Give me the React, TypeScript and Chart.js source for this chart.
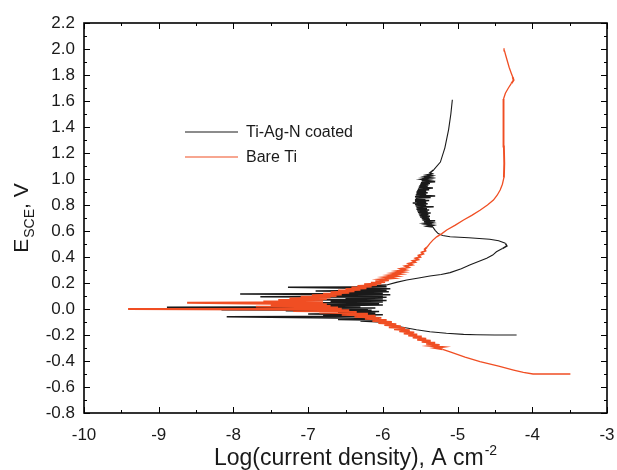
import React, { useEffect, useRef } from "react";
import { Chart, registerables } from "chart.js";

Chart.register(...registerables);

// ---- data: [log(current density), E_SCE] in scan order ----
const coatedTiAgN: [number, number][] = [
  [-4.21, -0.2], [-4.5, -0.2], [-4.75, -0.198], [-4.92, -0.195], [-5.15, -0.187], [-5.37, -0.175],
  [-5.55, -0.16], [-5.77, -0.136], [-5.92, -0.115], [-6.02, -0.1],
  [-6.3, -0.092], [-6.0, -0.086], [-6.6, -0.08], [-6.05, -0.074], [-8.09, -0.06], [-6.1, -0.056],
  [-6.8, -0.05], [-6.0, -0.044], [-7.0, -0.038], [-6.1, -0.032], [-6.6, -0.026], [-6.05, -0.02],
  [-7.3, -0.014], [-6.15, -0.01], [-8.16, -0.006], [-6.2, -0.002], [-6.9, 0.004], [-6.1, 0.008],
  [-8.89, 0.013], [-6.3, 0.018], [-7.1, 0.024], [-6.0, 0.03], [-6.8, 0.036], [-6.05, 0.042],
  [-7.2, 0.048], [-6.0, 0.054], [-6.7, 0.06], [-5.95, 0.066], [-7.0, 0.072], [-6.0, 0.078],
  [-6.5, 0.084], [-5.95, 0.09], [-7.64, 0.095], [-6.0, 0.1], [-6.9, 0.106], [-5.9, 0.11],
  [-7.91, 0.115], [-6.0, 0.12], [-6.6, 0.126], [-5.92, 0.132], [-6.9, 0.138], [-5.95, 0.144],
  [-6.4, 0.15], [-5.9, 0.156], [-7.27, 0.167], [-6.35, 0.17], [-5.95, 0.172], [-6.2, 0.178], [-5.95, 0.185],
  [-5.82, 0.205], [-5.68, 0.223], [-5.52, 0.238], [-5.37, 0.254], [-5.22, 0.266], [-5.1, 0.28],
  [-4.95, 0.31], [-4.83, 0.34], [-4.72, 0.365], [-4.61, 0.39], [-4.53, 0.415], [-4.48, 0.44],
  [-4.4, 0.465], [-4.34, 0.485], [-4.36, 0.505], [-4.45, 0.525], [-4.57, 0.536], [-4.85, 0.548],
  [-5.1, 0.556], [-5.2, 0.566], [-5.26, 0.58], [-5.3, 0.605], [-5.33, 0.63],
  [-5.4, 0.636], [-5.34, 0.642], [-5.42, 0.648], [-5.35, 0.654], [-5.44, 0.66], [-5.36, 0.666],
  [-5.45, 0.672], [-5.3, 0.678], [-5.47, 0.684], [-5.37, 0.69], [-5.48, 0.696], [-5.38, 0.702],
  [-5.5, 0.708], [-5.37, 0.714], [-5.51, 0.72], [-5.39, 0.726], [-5.52, 0.732], [-5.36, 0.738],
  [-5.53, 0.744], [-5.4, 0.75], [-5.54, 0.756], [-5.38, 0.762], [-5.55, 0.768], [-5.41, 0.774],
  [-5.55, 0.78], [-5.32, 0.786], [-5.56, 0.792], [-5.42, 0.798], [-5.57, 0.804], [-5.4, 0.81],
  [-5.6, 0.816], [-5.42, 0.822], [-5.57, 0.828], [-5.38, 0.834], [-5.57, 0.84], [-5.43, 0.846],
  [-5.56, 0.852], [-5.36, 0.858], [-5.57, 0.864], [-5.3, 0.87], [-5.56, 0.876], [-5.42, 0.882],
  [-5.55, 0.888], [-5.4, 0.894], [-5.55, 0.9], [-5.42, 0.906], [-5.54, 0.912], [-5.38, 0.918],
  [-5.53, 0.924], [-5.33, 0.93], [-5.52, 0.936], [-5.4, 0.942], [-5.51, 0.948], [-5.39, 0.954],
  [-5.5, 0.96], [-5.37, 0.966], [-5.49, 0.972], [-5.3, 0.978], [-5.48, 0.984], [-5.38, 0.99],
  [-5.47, 0.996], [-5.37, 1.002], [-5.45, 1.008], [-5.36, 1.014], [-5.43, 1.02], [-5.35, 1.026],
  [-5.41, 1.032], [-5.34, 1.04], [-5.37, 1.048],
  [-5.32, 1.07], [-5.23, 1.13], [-5.17, 1.24], [-5.12, 1.38], [-5.09, 1.5], [-5.07, 1.61],
];

const bareTi: [number, number][] = [
  [-3.49, -0.5], [-3.75, -0.5], [-3.99, -0.5], [-4.12, -0.488], [-4.25, -0.47], [-4.45, -0.44],
  [-4.7, -0.405], [-4.9, -0.37], [-5.1, -0.33], [-5.2, -0.31],
  [-5.3, -0.3], [-5.2, -0.292], [-5.36, -0.284], [-5.24, -0.276], [-5.42, -0.268], [-5.3, -0.26],
  [-5.48, -0.252], [-5.36, -0.244], [-5.54, -0.236], [-5.42, -0.228], [-5.6, -0.22], [-5.48, -0.212],
  [-5.66, -0.204], [-5.54, -0.196], [-5.72, -0.188], [-5.58, -0.18], [-5.78, -0.172], [-5.64, -0.164],
  [-5.85, -0.156], [-5.7, -0.148], [-5.92, -0.14], [-5.76, -0.132], [-5.98, -0.124], [-5.82, -0.116],
  [-6.06, -0.108], [-5.88, -0.1], [-6.14, -0.092], [-5.95, -0.084], [-6.24, -0.076], [-6.02, -0.068],
  [-6.38, -0.06], [-6.1, -0.052], [-6.55, -0.044], [-6.2, -0.036], [-6.85, -0.028], [-6.35, -0.022],
  [-7.2, -0.016], [-6.45, -0.01], [-7.6, -0.004], [-9.41, 0.0], [-6.55, 0.002], [-7.3, 0.006],
  [-6.6, 0.012], [-7.7, 0.018], [-6.7, 0.024], [-7.5, 0.03], [-6.75, 0.036], [-7.8, 0.042],
  [-8.62, 0.048], [-6.8, 0.052], [-7.6, 0.058], [-6.8, 0.064], [-7.4, 0.07], [-6.75, 0.076],
  [-7.25, 0.082], [-6.7, 0.088], [-7.1, 0.094], [-6.62, 0.1], [-6.95, 0.106], [-6.55, 0.112],
  [-6.8, 0.118], [-6.45, 0.124], [-6.7, 0.13], [-6.38, 0.136], [-6.6, 0.142], [-6.3, 0.148],
  [-6.5, 0.154], [-6.22, 0.16], [-6.42, 0.166], [-6.15, 0.172], [-6.34, 0.178], [-6.08, 0.184],
  [-6.25, 0.19], [-6.02, 0.196], [-6.16, 0.202], [-5.97, 0.208], [-6.1, 0.214], [-5.92, 0.22],
  [-6.03, 0.228], [-5.87, 0.236], [-5.97, 0.244], [-5.82, 0.252], [-5.91, 0.26], [-5.77, 0.268],
  [-5.86, 0.276], [-5.73, 0.284], [-5.81, 0.292], [-5.7, 0.3], [-5.76, 0.31], [-5.66, 0.32],
  [-5.7, 0.33], [-5.61, 0.34], [-5.65, 0.35], [-5.57, 0.36], [-5.6, 0.37], [-5.53, 0.38],
  [-5.56, 0.39], [-5.5, 0.4], [-5.52, 0.412], [-5.46, 0.424], [-5.48, 0.436], [-5.43, 0.448],
  [-5.44, 0.46], [-5.41, 0.475], [-5.39, 0.49],
  [-5.37, 0.505], [-5.33, 0.53], [-5.28, 0.555], [-5.21, 0.58], [-5.145, 0.608], [-5.03, 0.645],
  [-4.92, 0.685], [-4.81, 0.72], [-4.7, 0.76], [-4.6, 0.8], [-4.52, 0.838], [-4.47, 0.875],
  [-4.43, 0.915], [-4.4, 0.96], [-4.38, 1.01], [-4.375, 1.12], [-4.38, 1.25], [-4.38, 1.38],
  [-4.385, 1.5], [-4.39, 1.57], [-4.385, 1.615], [-4.36, 1.66], [-4.32, 1.7], [-4.28, 1.735],
  [-4.25, 1.76], [-4.262, 1.785], [-4.285, 1.82], [-4.31, 1.86], [-4.33, 1.9], [-4.355, 1.95],
  [-4.372, 1.985], [-4.378, 2.005],
];

const seriesNames = ["Ti-Ag-N coated", "Bare Ti"];
const seriesColors = ["#1a1a1a", "#f04e23"];

const xTicks = [-10, -9, -8, -7, -6, -5, -4, -3];
const yTicks = [-0.8, -0.6, -0.4, -0.2, 0.0, 0.2, 0.4, 0.6, 0.8, 1.0, 1.2, 1.4, 1.6, 1.8, 2.0, 2.2];

const FONT = "'Liberation Sans', Arial, sans-serif";

// thicker stroke where the trace jitters back and forth (noisy stretches)
const jitterWidth = (pts: [number, number][], base: number, noisy: number) => (c: any) => {
  const i = c.p0DataIndex;
  const d = (k: number) => pts[k + 1][0] - pts[k][0];
  const cur = d(i);
  const prev = i > 0 ? d(i - 1) : cur;
  const next = i < pts.length - 2 ? d(i + 1) : cur;
  return Math.sign(cur) !== Math.sign(prev) || Math.sign(cur) !== Math.sign(next) ? noisy : base;
};

const framePlugin = {
  id: "framePlugin",
  afterDraw(chart: any) {
    const { ctx, chartArea: a } = chart;
    const xs = chart.scales.x;
    const ys = chart.scales.y;
    ctx.save();
    ctx.strokeStyle = "#000";
    ctx.lineWidth = 1.6;
    ctx.strokeRect(a.left, a.top, a.right - a.left, a.bottom - a.top);
    ctx.lineWidth = 1;
    ctx.beginPath();
    const xMinor: number[] = [];
    for (let i = 0; i < xTicks.length - 1; i++) xMinor.push((xTicks[i] + xTicks[i + 1]) / 2);
    const yMinor: number[] = [];
    for (let i = 0; i < yTicks.length - 1; i++) yMinor.push((yTicks[i] + yTicks[i + 1]) / 2);
    const tick = (vals: number[], len: number, isX: boolean) => {
      vals.forEach((v) => {
        if (isX) {
          const p = Math.round(xs.getPixelForValue(v)) + 0.5;
          ctx.moveTo(p, a.bottom);
          ctx.lineTo(p, a.bottom - len);
          ctx.moveTo(p, a.top);
          ctx.lineTo(p, a.top + len);
        } else {
          const p = Math.round(ys.getPixelForValue(v)) + 0.5;
          ctx.moveTo(a.left, p);
          ctx.lineTo(a.left + len, p);
          ctx.moveTo(a.right, p);
          ctx.lineTo(a.right - len, p);
        }
      });
    };
    tick(xTicks, 6, true);
    tick(xMinor, 3, true);
    tick(yTicks, 6, false);
    tick(yMinor, 3, false);
    ctx.stroke();

    // legend
    const lx = 185, ly = 132, gap = 25;
    seriesNames.forEach((name, i) => {
      ctx.strokeStyle = seriesColors[i];
      ctx.lineWidth = 1.2;
      ctx.beginPath();
      ctx.moveTo(lx, ly + i * gap);
      ctx.lineTo(lx + 53, ly + i * gap);
      ctx.stroke();
      ctx.fillStyle = "#1a1a1a";
      ctx.font = `16px ${FONT}`;
      ctx.textBaseline = "middle";
      ctx.textAlign = "left";
      ctx.fillText(name, lx + 61, ly + i * gap + 1);
    });

    // x title
    ctx.fillStyle = "#1a1a1a";
    ctx.textBaseline = "alphabetic";
    ctx.textAlign = "left";
    ctx.font = `23px ${FONT}`;
    const xt = "Log(current density), A cm";
    const xw = ctx.measureText(xt).width;
    const xStart = 214;
    ctx.fillText(xt, xStart, 465);
    ctx.font = `14px ${FONT}`;
    ctx.fillText("-2", xStart + xw + 1, 455);

    // y title
    ctx.font = `21px ${FONT}`;
    const wE = ctx.measureText("E").width;
    const wV = ctx.measureText(", V").width;
    ctx.font = `14px ${FONT}`;
    const wS = ctx.measureText("SCE").width;
    const total = wE + 1 + wS + wV;
    const cy = (a.top + a.bottom) / 2;
    ctx.save();
    ctx.translate(28, cy + total / 2);
    ctx.rotate(-Math.PI / 2);
    ctx.font = `21px ${FONT}`;
    ctx.fillText("E", 0, 0);
    ctx.font = `14px ${FONT}`;
    ctx.fillText("SCE", wE + 1, 6);
    ctx.font = `21px ${FONT}`;
    ctx.fillText(", V", wE + 1 + wS, 0);
    ctx.restore();
    ctx.restore();
  },
};

export default function App() {
  const ref = useRef<HTMLCanvasElement | null>(null);
  useEffect(() => {
    if (!ref.current) return;
    const mk = (pts: [number, number][]) => pts.map(([x, y]) => ({ x, y }));
    const chart = new Chart(ref.current, {
      type: "scatter",
      data: {
        datasets: [
          {
            label: seriesNames[0],
            data: mk(coatedTiAgN),
            showLine: true,
            borderColor: seriesColors[0],
            borderWidth: 1.1,
            pointRadius: 0,
            order: 2,
            segment: { borderWidth: jitterWidth(coatedTiAgN, 1.1, 1.5) },
          },
          {
            label: seriesNames[1],
            data: mk(bareTi),
            showLine: true,
            borderColor: seriesColors[1],
            borderWidth: 1.3,
            pointRadius: 0,
            order: 1,
            segment: { borderWidth: jitterWidth(bareTi, 1.3, 1.9) },
          },
        ],
      },
      options: {
        responsive: false,
        animation: false,
        devicePixelRatio: 1,
        layout: { padding: { left: 0, top: 23, right: 10, bottom: 0 } },
        plugins: { legend: { display: false }, tooltip: { enabled: false } },
        scales: {
          x: {
            type: "linear",
            min: -10,
            max: -3,
            afterBuildTicks: (s: any) => {
              s.ticks = xTicks.map((v) => ({ value: v }));
            },
            afterFit: (s: any) => {
              s.height = 57;
              s.paddingLeft = 0;
              s.paddingRight = 0;
            },
            grid: { drawOnChartArea: false, drawTicks: false },
            border: { display: false },
            ticks: {
              padding: 12,
              color: "#1a1a1a",
              font: { family: FONT, size: 17 },
              maxRotation: 0,
              autoSkip: false,
              callback: (v: any) => String(v),
            },
          },
          y: {
            type: "linear",
            min: -0.8,
            max: 2.2,
            afterBuildTicks: (s: any) => {
              s.ticks = yTicks.map((v) => ({ value: v }));
            },
            afterFit: (s: any) => {
              s.width = 84;
              s.paddingTop = 0;
              s.paddingBottom = 0;
            },
            grid: { drawOnChartArea: false, drawTicks: false },
            border: { display: false },
            ticks: {
              padding: 9,
              color: "#1a1a1a",
              font: { family: FONT, size: 17 },
              autoSkip: false,
              callback: (v: any) => Number(v).toFixed(1),
            },
          },
        },
      },
      plugins: [framePlugin],
    } as any);
    return () => chart.destroy();
  }, []);
  return (
    <div style={{ position: "fixed", left: 0, top: 0, width: 617, height: 470, background: "#fff" }}>
      <canvas ref={ref} width={617} height={470} style={{ width: 617, height: 470 }} />
    </div>
  );
}
